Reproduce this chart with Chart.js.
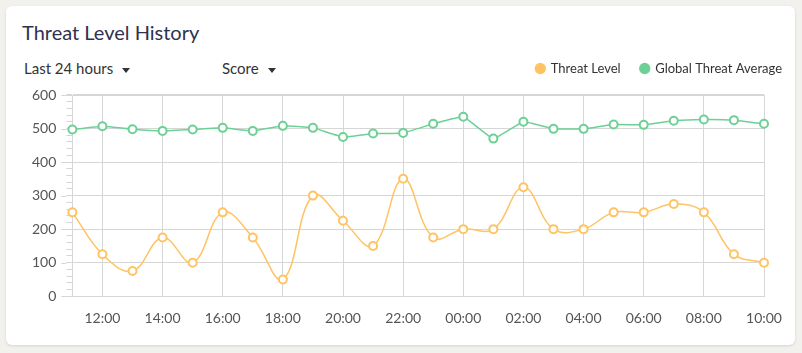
<!DOCTYPE html>
<html>
<head>
<meta charset="utf-8">
<script src="https://cdn.jsdelivr.net/npm/chart.js@4.4.0/dist/chart.umd.min.js"></script>
<style>
  html, body { margin: 0; padding: 0; background: #f2f1ee; }
  body { width: 802px; height: 353px; position: relative; overflow: hidden; font-family: "Lato", sans-serif; }
  .card {
    position: absolute; left: 6px; top: 6px; width: 789px; height: 339px;
    background: #fff; border-radius: 6px; box-shadow: 0 1px 3px rgba(0,0,0,0.12);
  }
  .title { position: absolute; left: 22px; top: 20px; font-size: 20px; color: #2f3150; }
  .dd { position: absolute; top: 59px; font-size: 15px; color: #333; }
  .dd .arrow {
    display: inline-block; width: 0; height: 0; margin-left: 9px; vertical-align: middle;
    border-left: 4px solid transparent; border-right: 4px solid transparent; border-top: 5px solid #333;
  }
  #wrap { position: absolute; left: 0; top: 0; width: 802px; height: 353px; }
</style>
</head>
<body>
<div class="card"></div>
<div class="title">Threat Level History</div>
<div class="dd" style="left:24px">Last 24 hours<span class="arrow"></span></div>
<div class="dd" style="left:222px">Score<span class="arrow"></span></div>
<div id="wrap"><canvas id="threatChart"></canvas></div>
<script>
const hours = ["11:00", "12:00", "13:00", "14:00", "15:00", "16:00", "17:00", "18:00",
  "19:00", "20:00", "21:00", "22:00", "23:00", "00:00", "01:00", "02:00",
  "03:00", "04:00", "05:00", "06:00", "07:00", "08:00", "09:00", "10:00"];
const threatLevel = [250, 125, 75, 175, 100, 250, 175, 50, 300, 225, 150, 350,
  175, 200, 200, 325, 200, 200, 250, 250, 275, 250, 125, 100];
const globalAverage = [497, 507, 498, 493, 497, 502, 493, 508, 502, 475, 485, 487,
  514, 535, 470, 520, 499, 499, 512, 511, 523, 527, 525, 514];

const orange = "#ffc363";
const green = "#6dd195";
const gridGray = "#d6d6d6";

Chart.defaults.font.family = "Lato";
Chart.defaults.font.size = 14;
Chart.defaults.color = "#555";

// longer tick marks for the labelled y values
const majorTicks = {
  id: "majorTicks",
  afterDraw(chart) {
    const y = chart.scales.y;
    const ctx = chart.ctx;
    ctx.save();
    ctx.strokeStyle = gridGray;
    ctx.lineWidth = 1;
    y.ticks.forEach((t) => {
      if (t.value % 100 !== 0) return;
      const py = Math.round(y.getPixelForValue(t.value)) + 0.5;
      ctx.beginPath();
      ctx.moveTo(y.right - 11, py);
      ctx.lineTo(y.right - 6, py);
      ctx.stroke();
    });
    ctx.restore();
  },
};

// extra room between legend and plot
const legendGap = {
  id: "legendGap",
  beforeInit(chart) {
    const fit = chart.legend.fit;
    chart.legend.fit = function () {
      fit.call(this);
      this.height += 10;
    };
  },
};

const ctx = document.getElementById("threatChart").getContext("2d");
new Chart(ctx, {
  type: "line",
  data: {
    labels: hours,
    datasets: [
      {
        label: "Threat Level",
        data: threatLevel,
        borderColor: orange,
        backgroundColor: orange,
        borderWidth: 1.5,
        tension: 0.4,
        pointRadius: 4,
        pointBorderWidth: 2,
        pointBackgroundColor: "#fff",
        pointBorderColor: orange,
      },
      {
        label: "Global Threat Average",
        data: globalAverage,
        borderColor: green,
        backgroundColor: green,
        borderWidth: 1.5,
        tension: 0.1,
        pointRadius: 4,
        pointBorderWidth: 2,
        pointBackgroundColor: "#fff",
        pointBorderColor: green,
      },
    ],
  },
  options: {
    responsive: true,
    maintainAspectRatio: false,
    animation: false,
    layout: { padding: { left: 22, right: 0, top: 42, bottom: 12 } },
    plugins: {
      tooltip: { enabled: false },
      legend: {
        position: "top",
        align: "end",
        labels: {
          usePointStyle: true,
          boxWidth: 8,
          boxHeight: 8,
          padding: 20,
          color: "#333",
          font: { size: 13 },
          generateLabels(chart) {
            const items = Chart.defaults.plugins.legend.labels.generateLabels(chart);
            return items.map((it) => ({ ...it, fillStyle: it.strokeStyle, lineWidth: 0 }));
          },
        },
      },
    },
    scales: {
      x: {
        offset: false,
        border: { color: gridGray },
        grid: {
          drawTicks: false,
          color: (c) => (c.index % 2 === 1 || c.index === 0 ? gridGray : "transparent"),
        },
        ticks: {
          autoSkip: false,
          maxRotation: 0,
          padding: 14,
          callback: function (value, index) {
            return index % 2 === 1 ? this.getLabelForValue(value) : "";
          },
        },
      },
      y: {
        min: 0,
        max: 600,
        border: { color: gridGray },
        grid: {
          tickLength: 6,
          tickColor: gridGray,
          color: (c) => (c.tick && c.tick.value % 100 === 0 ? gridGray : "transparent"),
          lineWidth: (c) => (c.tick && c.tick.value === 600 ? 2 : 1),
        },
        ticks: {
          stepSize: 20,
          autoSkip: false,
          padding: 10,
          callback: (v) => (v % 100 === 0 ? v : ""),
        },
      },
      pad: {
        position: "right",
        display: true,
        grid: { display: false },
        border: { display: false },
        ticks: { display: false },
        afterFit(scale) { scale.width = 38; },
      },
    },
  },
  plugins: [majorTicks, legendGap],
});
</script>
</body>
</html>
